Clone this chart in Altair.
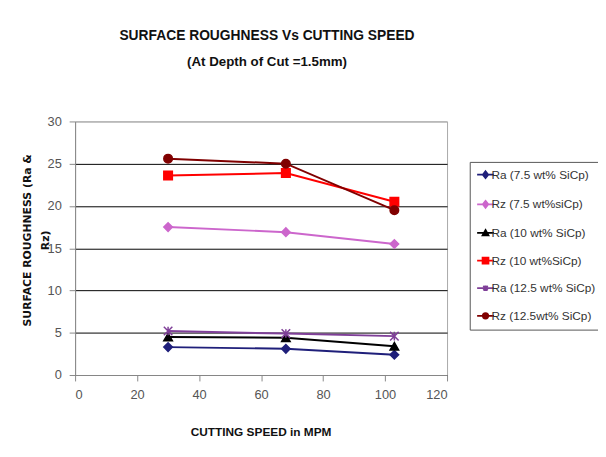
import altair as alt
import pandas as pd

speed = [30, 68, 103]
series = [
    "Ra (7.5 wt% SiCp)",
    "Rz (7.5 wt%siCp)",
    "Ra (10 wt% SiCp)",
    "Rz (10 wt%SiCp)",
    "Ra (12.5 wt% SiCp)",
    "Rz (12.5wt% SiCp)",
]
ra_75 = [3.3, 3.1, 2.4]
rz_75 = [17.5, 16.9, 15.5]
ra_10 = [4.5, 4.4, 3.4]
rz_10 = [23.6, 23.9, 20.5]
ra_125 = [5.2, 4.9, 4.6]
rz_125 = [25.6, 25.0, 19.5]
values = [ra_75, rz_75, ra_10, rz_10, ra_125, rz_125]

colors = ["#1F1F7A", "#CC66CC", "#000000", "#FF0000", "#7F3F98", "#800000"]
shapes = ["diamond", "diamond", "triangle-up", "square",
          "M-1,-1L1,1M-1,1L1,-1M0,-1L0,1", "circle"]
# legend symbols: a short line through the marker
LINE = "M-1.7,0L1.7,0"
legend_paths = [
    LINE + "M0,-0.7L0.55,0L0,0.7L-0.55,0Z",
    LINE + "M0,-0.7L0.55,0L0,0.7L-0.55,0Z",
    LINE + "M0,-0.6L0.6,0.5L-0.6,0.5Z",
    LINE + "M-0.6,-0.6L0.6,-0.6L0.6,0.6L-0.6,0.6Z",
    LINE + "M-0.45,-0.45L0.45,0.45M-0.45,0.45L0.45,-0.45M0,-0.55L0,0.55",
    LINE + "M0.55,0A0.55,0.55 0 1,1 -0.55,0A0.55,0.55 0 1,1 0.55,0Z",
]

rows = []
for name, vals in zip(series, values):
    for s, v in zip(speed, vals):
        rows.append({"speed": s, "value": v, "series": name})
df = pd.DataFrame(rows)

FONT = "Liberation Sans, Arial, sans-serif"

x = alt.X("speed:Q", scale=alt.Scale(domain=[0, 120]),
          axis=alt.Axis(values=list(range(0, 121, 20)), grid=False,
                        title="CUTTING SPEED in MPM", titleX=188, titleY=57,
                        titleAlign="center", titleBaseline="middle"))
y = alt.Y("value:Q", scale=alt.Scale(domain=[0, 30]),
          axis=alt.Axis(values=list(range(0, 31, 5)),
                        gridColor=alt.condition("datum.value == 30", alt.value("#aaaaaa"), alt.value("#000000")),
                        title=["SURFACE ROUGHNESS (Ra &", "Rz)"],
                        titleX=-43, titleY=120, titleAlign="center",
                        titleBaseline="bottom", titleAngle=-90,
                        titleFont="DejaVu Sans", titleFontSize=11,
                        titleLineHeight=18))

legend = alt.Legend(title=None, orient="none", legendX=400, legendY=41,
                    strokeColor="#555", padding=7, rowPadding=14, symbolOffset=3,
                    labelFont=FONT, labelFontSize=12, labelColor="#333",
                    symbolSize=100, labelOffset=0,
                    symbolStrokeWidth=1.8, symbolOpacity=1, fillColor="white")

cscale = alt.Scale(domain=series, range=colors)

lines = alt.Chart(df).mark_line(strokeWidth=2).encode(
    x=x, y=y, color=alt.Color("series:N", scale=cscale, legend=None), detail="series:N")
points = alt.Chart(df).mark_point(filled=True, size=75, strokeWidth=1.5, opacity=1).encode(
    x=x, y=y,
    color=alt.Color("series:N", scale=cscale, legend=None),
    shape=alt.Shape("series:N", scale=alt.Scale(domain=series, range=shapes), legend=None),
    stroke=alt.Stroke("series:N", scale=cscale, legend=None))
# legend-only layer (no rows pass the filter): gives the legend its line-through-marker symbols
ghost = alt.Chart(df).transform_filter("datum.value < -1000").mark_point(filled=True).encode(
    x=x, y=y,
    color=alt.Color("series:N", scale=cscale, legend=legend),
    shape=alt.Shape("series:N", scale=alt.Scale(domain=series, range=legend_paths), legend=legend),
    stroke=alt.Stroke("series:N", scale=cscale, legend=legend))

chart = alt.layer(lines, points, ghost).resolve_scale(
    color="independent", shape="independent", stroke="independent"
).properties(
    width=377, height=257,
    title=alt.TitleParams("SURFACE ROUGHNESS Vs CUTTING SPEED",
                          subtitle="(At Depth of Cut =1.5mm)",
                          font=FONT, fontSize=14, fontWeight="bold", color="#111",
                          subtitleFont=FONT, subtitleFontSize=13.5, subtitleFontWeight="bold",
                          subtitleColor="#111", subtitlePadding=12,
                          anchor="middle", dx=6, offset=48),
    autosize=alt.AutoSizeParams(type="none"),
    padding={"left": 68, "top": 112, "right": 153, "bottom": 72},
).configure_view(stroke="#aaaaaa", strokeWidth=1).configure_axis(
    domainColor="#888", tickColor="#888", labelFont=FONT, labelFontSize=13,
    labelColor="#555", titleFont=FONT, titleFontSize=12, titleColor="#111",
    titleFontWeight="bold", tickSize=6, labelPadding=8
)

chart.save("out.html", embed_options={"renderer": "svg", "actions": False})
